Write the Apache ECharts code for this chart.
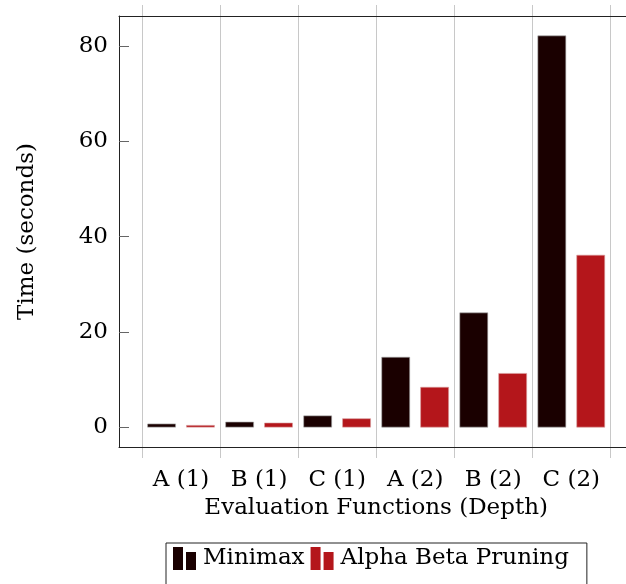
<!DOCTYPE html>
<html>
<head>
<meta charset="utf-8">
<script src="https://cdn.jsdelivr.net/npm/echarts@6/dist/echarts.min.js"></script>
<style>
  html, body { margin: 0; padding: 0; background: #fff; }
  #chart { width: 626px; height: 584px; }
</style>
</head>
<body>
<div id="chart"></div>
<script>
  // data
  const categories = ["A (1)", "B (1)", "C (1)", "A (2)", "B (2)", "C (2)"];
  const minimax = [0.8, 1.2, 2.5, 14.8, 24.1, 82.2];
  const alphaBeta = [0.5, 1.0, 1.9, 8.5, 11.4, 36.2];
  const yTicks = [0, 20, 40, 60, 80];

  const FONT = "DejaVu Serif";
  const FS = 23;
  const DARK = "#1a0000";
  const RED = "#b4161b";
  const FRAME = "#222";
  const LEGEND_ICON = "path://M0,0H10V23H0Z M13,5H23V23H13Z";

  // frame (axis box) and its value range; right side runs off the canvas
  const frame = { left: 119, top: 16, width: 514, height: 431 };
  const yMin = -4.1, yMax = 86.3;
  // grid lines stick out 11px above and below the box
  const over = 11;
  const perPx = (yMax - yMin) / frame.height;

  // plain line for the box edges
  const edge = (position) => ({
    gridIndex: 0, type: "value", position, min: 0, max: 1,
    axisLine: { show: true, onZero: false, lineStyle: { color: FRAME, width: 1 } },
    axisTick: { show: false }, axisLabel: { show: false }, splitLine: { show: false },
  });

  const chart = echarts.init(document.getElementById("chart"), null, { renderer: "canvas" });
  chart.setOption({
    animation: false,
    textStyle: { fontFamily: FONT, color: "#000" },
    grid: [
      {
        left: frame.left, top: frame.top, width: frame.width, height: frame.height,
        outerBoundsMode: "none",
      },
      {
        left: 142, top: frame.top - over, width: 468.3, height: frame.height + 2 * over,
        outerBoundsMode: "none",
      },
    ],
    xAxis: [
      edge("bottom"),
      edge("top"),
      {
        gridIndex: 1,
        type: "category",
        data: categories,
        boundaryGap: true,
        axisLine: { show: false },
        axisTick: { show: false },
        splitLine: { show: true, lineStyle: { color: "#c8c8c8", width: 1 } },
        axisLabel: { color: "#000", fontFamily: FONT, fontSize: FS, margin: 11, interval: 0 },
        name: "Evaluation Functions (Depth)",
        nameLocation: "middle",
        nameGap: 39,
        nameTextStyle: { color: "#000", fontFamily: FONT, fontSize: FS },
      },
    ],
    yAxis: [
      {
        gridIndex: 0,
        type: "value",
        min: yMin,
        max: yMax,
        axisLine: { show: true, onZero: false, lineStyle: { color: FRAME, width: 1 } },
        axisTick: { show: true, inside: true, length: 10, customValues: yTicks, lineStyle: { color: "#666" } },
        axisLabel: { customValues: yTicks, color: "#000", fontFamily: FONT, fontSize: FS, margin: 11 },
        splitLine: { show: false },
        name: "Time (seconds)",
        nameLocation: "middle",
        nameRotate: 90,
        nameGap: 80,
        nameTextStyle: { color: "#000", fontFamily: FONT, fontSize: FS },
      },
      {
        gridIndex: 1,
        type: "value",
        show: false,
        min: yMin - over * perPx,
        max: yMax + over * perPx,
        splitLine: { show: false },
      },
    ],
    legend: {
      left: 166,
      top: 543,
      orient: "horizontal",
      padding: [4, 18, 30, 7],
      borderColor: FRAME,
      borderWidth: 1,
      itemWidth: 23,
      itemHeight: 23,
      itemGap: 6,
      itemStyle: { borderWidth: 0 },
      textStyle: { color: "#000", fontFamily: FONT, fontSize: FS, padding: [2, 0, 0, 2] },
      data: [
        { name: "Minimax", icon: LEGEND_ICON },
        { name: "Alpha Beta Pruning", icon: LEGEND_ICON },
      ],
    },
    series: [
      {
        name: "Minimax",
        type: "bar",
        xAxisIndex: 2,
        yAxisIndex: 1,
        data: minimax,
        barWidth: 28.6,
        barGap: "36%",
        itemStyle: { color: DARK, borderColor: "#aaa", borderWidth: 0.6 },
      },
      {
        name: "Alpha Beta Pruning",
        type: "bar",
        xAxisIndex: 2,
        yAxisIndex: 1,
        data: alphaBeta,
        barWidth: 28.6,
        itemStyle: { color: RED, borderColor: "#d9a0a0", borderWidth: 0.6 },
      },
    ],
  });
</script>
</body>
</html>
